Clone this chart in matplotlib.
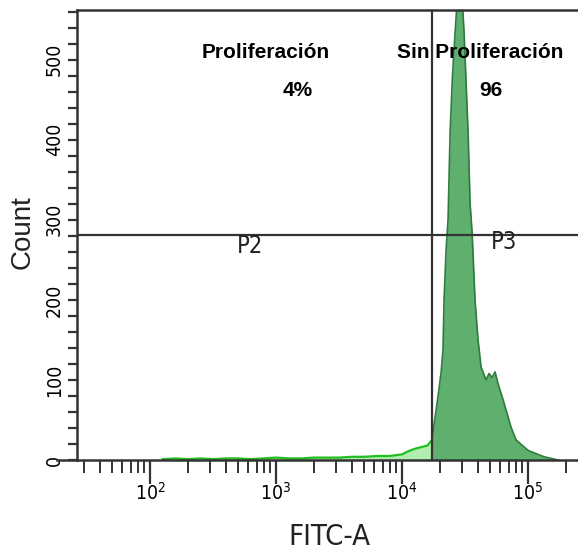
import numpy as np
import matplotlib
matplotlib.use("Agg")
import matplotlib.pyplot as plt
from matplotlib.ticker import FixedLocator, NullFormatter, FuncFormatter, LogLocator

# ---- data ----
fitc = [126, 158, 200, 251, 316, 398, 501, 631, 794, 1000, 1259, 1585, 1995,
        2512, 3162, 3981, 5012, 6310, 7943, 10000, 11220, 12589, 14125, 15849,
        17300, 17950, 18620, 19680, 20420, 21130, 21530, 22340, 23170, 24040,
        25120, 26360, 27800, 28580, 29380, 31050, 33420, 34670, 35970, 37930,
        40090, 42360, 46450, 48980, 51760, 54700, 57810, 63390, 73280, 80350,
        100000, 133970, 172980]
counts = [1, 2, 1, 2, 1, 2, 2, 1, 2, 3, 2, 2, 3,
          3, 3, 4, 4, 5, 5, 7, 11, 14, 16, 18,
          25, 45, 62, 90, 110, 138, 200, 262, 300, 408,
          480, 534, 590, 575, 600, 534, 409, 320, 284, 200,
          150, 116, 100, 108, 103, 110, 95, 75, 41, 25,
          12, 4, 0]
gate_x = 17300          # vertical gate between P2 and P3
gate_y = 281            # horizontal marker level
gate_labels = ["P2", "P3"]
annot_titles = ["Proliferación", "Sin Proliferación"]
annot_values = ["4%", "96"]
x_major = [1e2, 1e3, 1e4, 1e5]
x_major_labels = ["$10^{2}$", "$10^{3}$", "$10^{4}$", "$10^{5}$"]
y_major = [0, 100, 200, 300, 400, 500]

x = np.array(fitc, dtype=float)
y = np.array(counts, dtype=float)

narrow = ["DejaVu Sans"]
plt.rcParams["mathtext.fontset"] = "custom"
plt.rcParams["mathtext.rm"] = "DejaVu Sans:stretch=condensed"
plt.rcParams["mathtext.it"] = "DejaVu Sans:stretch=condensed"

W, H = 578, 552
fig = plt.figure(figsize=(W / 100, H / 100), dpi=100)
fig.patch.set_facecolor("white")

def fx(px):
    return px / W

def fy(py):
    return 1 - py / H

ax = fig.add_axes([fx(77), fy(460), fx(578) - fx(77), fy(10) - fy(460)])
ax.set_xscale("log")
ax.set_xlim(26.3, 2.49e5)
ax.set_ylim(0, 562)

dark = "#333333"
# histogram
left = x <= gate_x
right = x >= gate_x
ax.fill_between(x, y, where=left, color="#7ee07e", alpha=0.6, lw=0, interpolate=False)
ax.plot(x[left], y[left], color="#1fbf1f", lw=1.6)
ax.fill_between(x, y, where=right, color="#5faf6e", lw=0)
ax.plot(x[right], y[right], color="#2f7a3e", lw=1.2)

# gates
ax.axvline(gate_x, color=dark, lw=1.6)
ax.axhline(gate_y, color=dark, lw=1.6)

# spines
for s in ["left", "top", "bottom"]:
    ax.spines[s].set_color(dark)
    ax.spines[s].set_linewidth(1.8)
ax.spines["right"].set_visible(False)
# extension of the baseline to the left of the y axis
ax.plot([(57 - 77) / 501, 0], [0, 0], transform=ax.transAxes, color=dark,
        lw=1.8, clip_on=False)

# ticks
ax.xaxis.set_major_locator(FixedLocator(x_major))
ax.xaxis.set_major_formatter(FuncFormatter(lambda v, p: x_major_labels[x_major.index(v)] if v in x_major else ""))
ax.xaxis.set_minor_locator(LogLocator(base=10, subs=np.arange(2, 10), numticks=20))
ax.xaxis.set_minor_formatter(NullFormatter())
ax.tick_params(axis="x", which="major", direction="out", length=17, width=1.6,
               color=dark, pad=-1, labelsize=14)
ax.tick_params(axis="x", which="minor", direction="out", length=9.5, width=1.4,
               color=dark)
ax.yaxis.set_major_locator(FixedLocator(y_major))
ax.yaxis.set_minor_locator(FixedLocator(list(range(20, 562, 20))))
ax.tick_params(axis="y", which="both", direction="out", length=6.5, width=1.6,
               color=dark)
ax.tick_params(axis="y", which="major", pad=3, labelsize=14)
for lab in ax.get_yticklabels():
    lab.set_rotation(90)
    lab.set_va("center")
    lab.set_family(narrow)
    lab.set_stretch("condensed")
for lab in ax.get_xticklabels():
    lab.set_family(narrow)
    lab.set_stretch("condensed")

# axis labels
fig.text(fx(23), fy(232), "Count", rotation=90, ha="center", va="center",
         fontsize=20, family=["Liberation Sans", "DejaVu Sans"], color="#222222")
fig.text(fx(329), fy(537), "FITC-A", ha="center", va="center",
         fontsize=21, family=narrow, stretch="condensed", color="#222222")

# annotations
bold = ["Liberation Sans", "DejaVu Sans"]
fig.text(fx(266), fy(52), annot_titles[0], ha="center", va="center",
         fontsize=15, fontweight="bold", family=bold)
fig.text(fx(480), fy(52), annot_titles[1], ha="center", va="center",
         fontsize=15, fontweight="bold", family=bold)
fig.text(fx(298), fy(90), annot_values[0], ha="center", va="center",
         fontsize=15, fontweight="bold", family=bold)
fig.text(fx(491), fy(90), annot_values[1], ha="center", va="center",
         fontsize=15, fontweight="bold", family=bold)
fig.text(fx(250), fy(246), gate_labels[0], ha="center", va="center",
         fontsize=17, family=narrow, stretch="condensed", color="#222222")
fig.text(fx(504), fy(242), gate_labels[1], ha="center", va="center",
         fontsize=17, family=narrow, stretch="condensed", color="#222222")

fig.savefig("out.png", dpi=100, facecolor="white")
